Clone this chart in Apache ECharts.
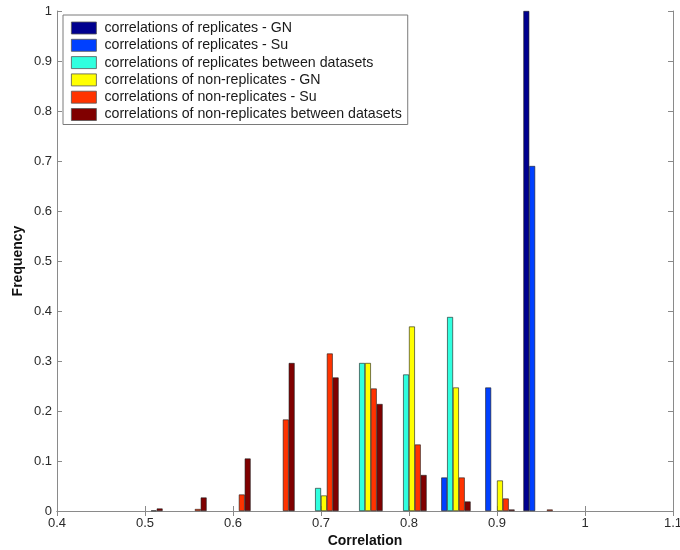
<!DOCTYPE html>
<html>
<head>
<meta charset="utf-8">
<script src="https://cdn.jsdelivr.net/npm/echarts@6/dist/echarts.min.js"></script>
<style>
  html, body { margin: 0; padding: 0; background: #fff; }
  #chart { width: 680px; height: 550px; }
</style>
</head>
<body>
<div id="chart"></div>
<script>
// Histogram bin centres (correlation)
const binCenters = [0.5, 0.55, 0.6, 0.65, 0.7, 0.75, 0.8, 0.85, 0.9, 0.95];

// Relative frequency per bin for each group
const repGN      = [0,     0,     0,     0,     0,     0,     0,     0,     0,     1.0];
const repSu      = [0,     0,     0,     0,     0,     0,     0,     0.067, 0.247, 0.69];
const repBetween = [0,     0,     0,     0,     0.046, 0.296, 0.273, 0.388, 0,     0];
const nonGN      = [0,     0,     0,     0,     0.031, 0.296, 0.369, 0.247, 0.061, 0];
const nonSu      = [0.001, 0.004, 0.033, 0.183, 0.315, 0.245, 0.133, 0.067, 0.025, 0.003];
const nonBetween = [0.005, 0.027, 0.105, 0.296, 0.267, 0.214, 0.072, 0.019, 0.003, 0];

const seriesNames = [
  'correlations of replicates - GN',
  'correlations of replicates - Su',
  'correlations of replicates between datasets',
  'correlations of non-replicates - GN',
  'correlations of non-replicates - Su',
  'correlations of non-replicates between datasets'
];
const seriesValues = [repGN, repSu, repBetween, nonGN, nonSu, nonBetween];
const seriesColors = ['#00008F', '#0040FF', '#30FFDF', '#FFFF00', '#FF3300', '#800000'];

const xTicks = { min: 0.4, max: 1.1, step: 0.1 };
const yTicks = { min: 0, max: 1, step: 0.1 };

const font = 'Liberation Sans, Arial, sans-serif';
const axisGray = '#8a8a8a';
const labelColor = '#2a2a2a';

const chart = echarts.init(document.getElementById('chart'), null, { renderer: 'canvas' });

// Empty bins are left out so no flat bar outline is drawn on the axis
const series = seriesNames.map((name, i) => ({
  name: name,
  type: 'bar',
  xAxisIndex: 0,
  yAxisIndex: 0,
  barGap: '0%',
  barCategoryGap: '20%',
  data: binCenters.map((x, j) => [x, seriesValues[i][j] > 0 ? seriesValues[i][j] : '-']),
  itemStyle: { color: seriesColors[i], borderColor: '#1a1a1a', borderWidth: 0.6 },
  emphasis: { disabled: true },
  animation: false
}));

const innerTicks = { show: true, inside: true, length: 5, lineStyle: { color: axisGray } };

chart.setOption({
  animation: false,
  backgroundColor: '#fff',
  grid: { left: 57, right: 7, top: 11, bottom: 39, containLabel: false, outerBoundsMode: 'none' },
  legend: {
    orient: 'vertical',
    left: 63,
    top: 15,
    itemWidth: 25,
    itemHeight: 12,
    itemGap: 3.3,
    padding: [6, 6, 3, 8],
    borderColor: '#7a7a7a',
    borderWidth: 1,
    borderRadius: 0,
    backgroundColor: '#fff',
    icon: 'rect',
    selectedMode: false,
    itemStyle: { borderColor: '#555', borderWidth: 0.8 },
    textStyle: { fontFamily: font, fontSize: 14.2, color: '#1a1a1a', padding: [0, 0, 0, 3] },
    data: seriesNames
  },
  xAxis: [
    {
      type: 'value',
      min: xTicks.min, max: xTicks.max, interval: xTicks.step,
      name: 'Correlation',
      nameLocation: 'middle',
      nameGap: 23,
      nameMoveOverlap: false,
      nameTextStyle: { fontFamily: font, fontSize: 14, fontWeight: 'bold', color: '#111' },
      axisLine: { show: true, onZero: false, lineStyle: { color: axisGray } },
      axisTick: innerTicks,
      axisLabel: { fontFamily: font, fontSize: 13, color: labelColor, margin: 6 },
      splitLine: { show: false }
    },
    {
      type: 'value', position: 'top',
      min: xTicks.min, max: xTicks.max, interval: xTicks.step,
      axisLine: { show: true, lineStyle: { color: axisGray } },
      axisTick: innerTicks,
      axisLabel: { show: false },
      splitLine: { show: false }
    }
  ],
  yAxis: [
    {
      type: 'value',
      min: yTicks.min, max: yTicks.max, interval: yTicks.step,
      name: 'Frequency',
      nameLocation: 'middle',
      nameGap: 32,
      nameMoveOverlap: false,
      nameRotate: 90,
      nameTextStyle: { fontFamily: font, fontSize: 14, fontWeight: 'bold', color: '#111' },
      axisLine: { show: true, lineStyle: { color: axisGray } },
      axisTick: innerTicks,
      axisLabel: { fontFamily: font, fontSize: 13, color: labelColor, margin: 5 },
      splitLine: { show: false }
    },
    {
      type: 'value', position: 'right',
      min: yTicks.min, max: yTicks.max, interval: yTicks.step,
      axisLine: { show: true, lineStyle: { color: axisGray } },
      axisTick: innerTicks,
      axisLabel: { show: false },
      splitLine: { show: false }
    }
  ],
  series: series
});
</script>
</body>
</html>
